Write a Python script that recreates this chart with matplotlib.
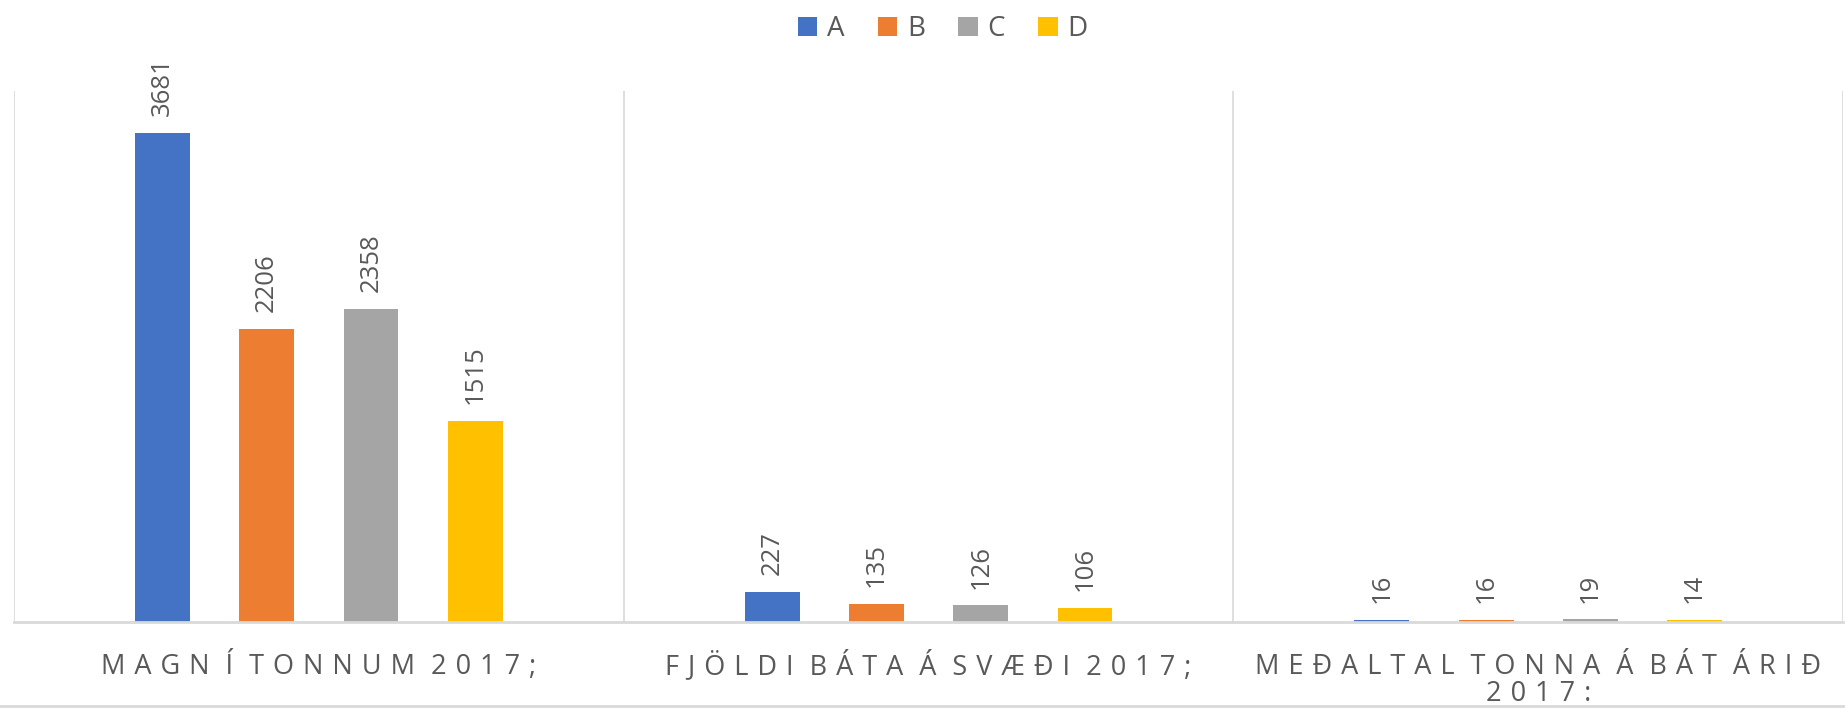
import numpy as np
import matplotlib.pyplot as plt

# data
categories = ['MAGN Í TONNUM 2017;', 'FJÖLDI BÁTA Á SVÆÐI 2017;', 'MEÐALTAL TONNA Á BÁT ÁRIÐ\n2017:']
series = ['A', 'B', 'C', 'D']
values_a = [3681, 227, 16]
values_b = [2206, 135, 16]
values_c = [2358, 126, 19]
values_d = [1515, 106, 14]
colors = ['#4472C4', '#ED7D31', '#A5A5A5', '#FFC000']

plt.rcParams['font.family'] = ['Open Sans', 'DejaVu Sans']
txt = '#595959'


def spaced(line, sep='\u2009\u2009'):
    # rough letter spacing with thin spaces
    out = ''
    for c in line:
        out += ' ' if c == ' ' else c + sep
    return out.rstrip(sep)


fig = plt.figure(figsize=(18.45, 7.08), dpi=100)
ax = fig.add_axes([0.0076, 0.1215, 0.9914, 0.7505])

x = np.arange(len(categories))
step = 0.171
width = 0.09
all_vals = [values_a, values_b, values_c, values_d]
for i, (name, vals, col) in enumerate(zip(series, all_vals, colors)):
    pos = x + (i - 1.5) * step
    ax.bar(pos, vals, width, color=col, label=name)
    for p, v in zip(pos, vals):
        ax.annotate(str(v), (p, v), xytext=(0, 12), textcoords='offset points',
                    rotation=90, ha='center', va='bottom', fontsize=18.5, color=txt)

ax.set_xlim(-0.5, 2.5)
ax.set_ylim(0, 4000)
ax.set_yticks([])
ax.set_xticks([])
for s in ['top', 'left', 'right']:
    ax.spines[s].set_visible(False)
ax.spines['bottom'].set_color('#D9D9D9')
ax.spines['bottom'].set_linewidth(2)
for b in [-0.5, 0.5, 1.5, 2.5]:
    ax.axvline(b, color='#D9D9D9', lw=1.2)

# category labels, one text per line so the line pitch is controlled
line_offsets = [-52, -79]
for xi, cat in zip(x, categories):
    for k, line in enumerate(cat.split('\n')):
        ax.annotate(spaced(line), (xi, 0), xytext=(0, line_offsets[k]),
                    textcoords='offset pixels', ha='center', va='baseline',
                    fontsize=19.5, color=txt, annotation_clip=False)

leg = fig.legend(loc='upper center', bbox_to_anchor=(0.511, 1.014), ncol=4, frameon=False,
                 fontsize=20, handlelength=0.7, handleheight=0.7, handletextpad=0.35,
                 columnspacing=1.2)
for t in leg.get_texts():
    t.set_color(txt)

fig.add_artist(plt.Line2D([0, 1], [0.003, 0.003], color='#D9D9D9', lw=2))

fig.savefig('out.png', dpi=100)
